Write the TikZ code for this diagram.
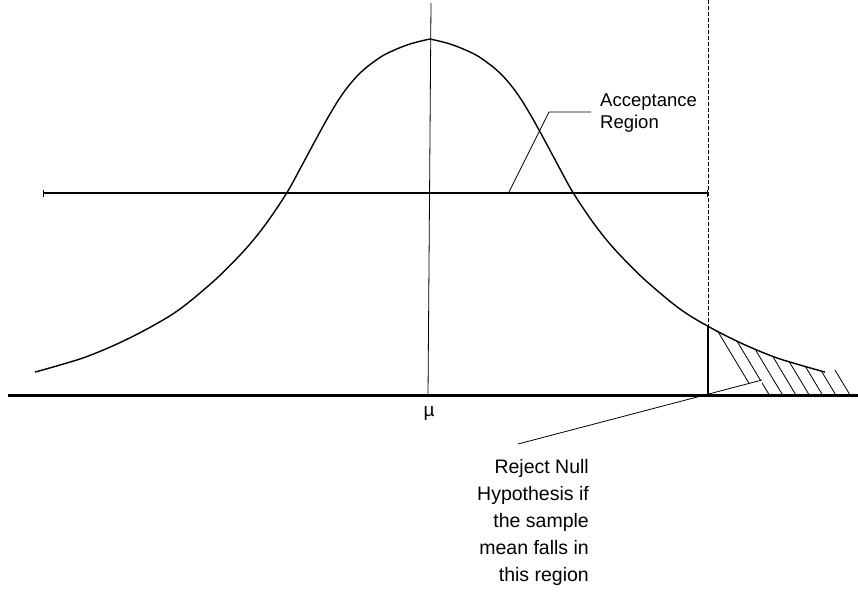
\documentclass[tikz,border=0pt]{standalone}
\usepackage{fontspec}
\setmainfont{Liberation Sans}
\usetikzlibrary{arrows.meta}
\begin{document}
\begin{tikzpicture}[x=1pt,y=-1pt,
  curvestyle/.style={line width=1.4pt, line join=round},
  axisstyle/.style={line width=3pt},
  thinline/.style={line width=0.8pt},
  hatchline/.style={line width=0.8pt},
  critline/.style={line width=0.8pt, dash pattern=on 4pt off 2pt},
  lbl/.style={inner sep=0pt}]
\useasboundingbox (0,0) rectangle (858,594);

% named points
\coordinate (axL) at (8,395);
\coordinate (axR) at (858,395);
\coordinate (muTop) at (431,3);
\coordinate (muBot) at (428,395);
\coordinate (accL) at (43,193);
\coordinate (accR) at (708,193);
\coordinate (critTop) at (708,0);
\coordinate (critBot) at (708,395);
\coordinate (critCurve) at (708,326);
\coordinate (accA) at (508,194);
\coordinate (accB) at (549,112);
\coordinate (accC) at (591,112);
\coordinate (rejA) at (518,444);
\coordinate (rejB) at (762,380);

% normal curve (two halves meeting at a slightly pointed top)
\draw[curvestyle] plot[smooth, tension=0.6] coordinates {(35,372.1) (60,365) (87,356.5) (120,342.6) (153,325.7) (180,309) (210,284.4) (230,265.4) (250,244) (268,221) (287,192.5) (300,169) (315,141) (330,114) (344,91.9) (360,73.1) (377,59.5) (390,52) (410,44) (430,39)};
\draw[curvestyle] plot[smooth, tension=0.6] coordinates {(430,39) (450,44) (470,52) (483,59.5) (500,73.1) (516,91.9) (530,114) (545,141) (560,169) (573,192.5) (592,221) (610,244) (630,265.4) (650,284.4) (680,309) (707,325.7) (740,342.6) (773,356.5) (800,365) (825,372.1)};

% hatching of the rejection region
\begin{scope}
  \clip (708,395) -- (rejB) -- (762,395) -- (848,395) -- (848,0) -- (708,0) -- cycle;
  \clip plot[smooth, tension=0.6] coordinates {(430,39) (450,44) (470,52) (483,59.5) (500,73.1) (516,91.9) (530,114) (545,141) (560,169) (573,192.5) (592,221) (610,244) (630,265.4) (650,284.4) (680,309) (707,325.7) (740,342.6) (773,356.5) (800,365) (825,372.1)} -- (842,380) -- (842,420) -- (430,420) -- cycle;
  \foreach \k in {0,...,6} {
    \draw[hatchline] ({756+13.3*\k},395) -- ++(-60,-100);
  }
\end{scope}
\draw[hatchline] (850,395) -- (835,370);

% axis and verticals
\draw[axisstyle] (axL) -- (axR);
\draw[thinline] (muTop) -- (muBot);
\draw[critline] (critTop) -- (critBot);
\draw[line width=2pt] (critCurve) -- (critBot);

% acceptance interval
\draw[line width=2.8pt, {Bar[width=7pt,line width=1pt]}-{Bar[width=7pt,line width=1pt]}] (accL) -- (accR);

% labels
\node[lbl, anchor=base, font=\fontsize{19}{22}\selectfont] (mu) at (429,416) {µ};
\node[lbl, anchor=north west, align=left, font=\fontsize{18.5}{22}\selectfont] (acc) at (600,94) {Acceptance\\Region};
\node[lbl, anchor=north east, align=right, font=\fontsize{19.5}{27}\selectfont] (rej) at (589,459.5) {Reject Null\\Hypothesis if\\the sample\\mean falls in\\this region};

% leaders
\draw[thinline] (accA) -- (accB) -- (accC);
\draw[thinline] (rejA) -- (rejB);
\end{tikzpicture}
\end{document}
